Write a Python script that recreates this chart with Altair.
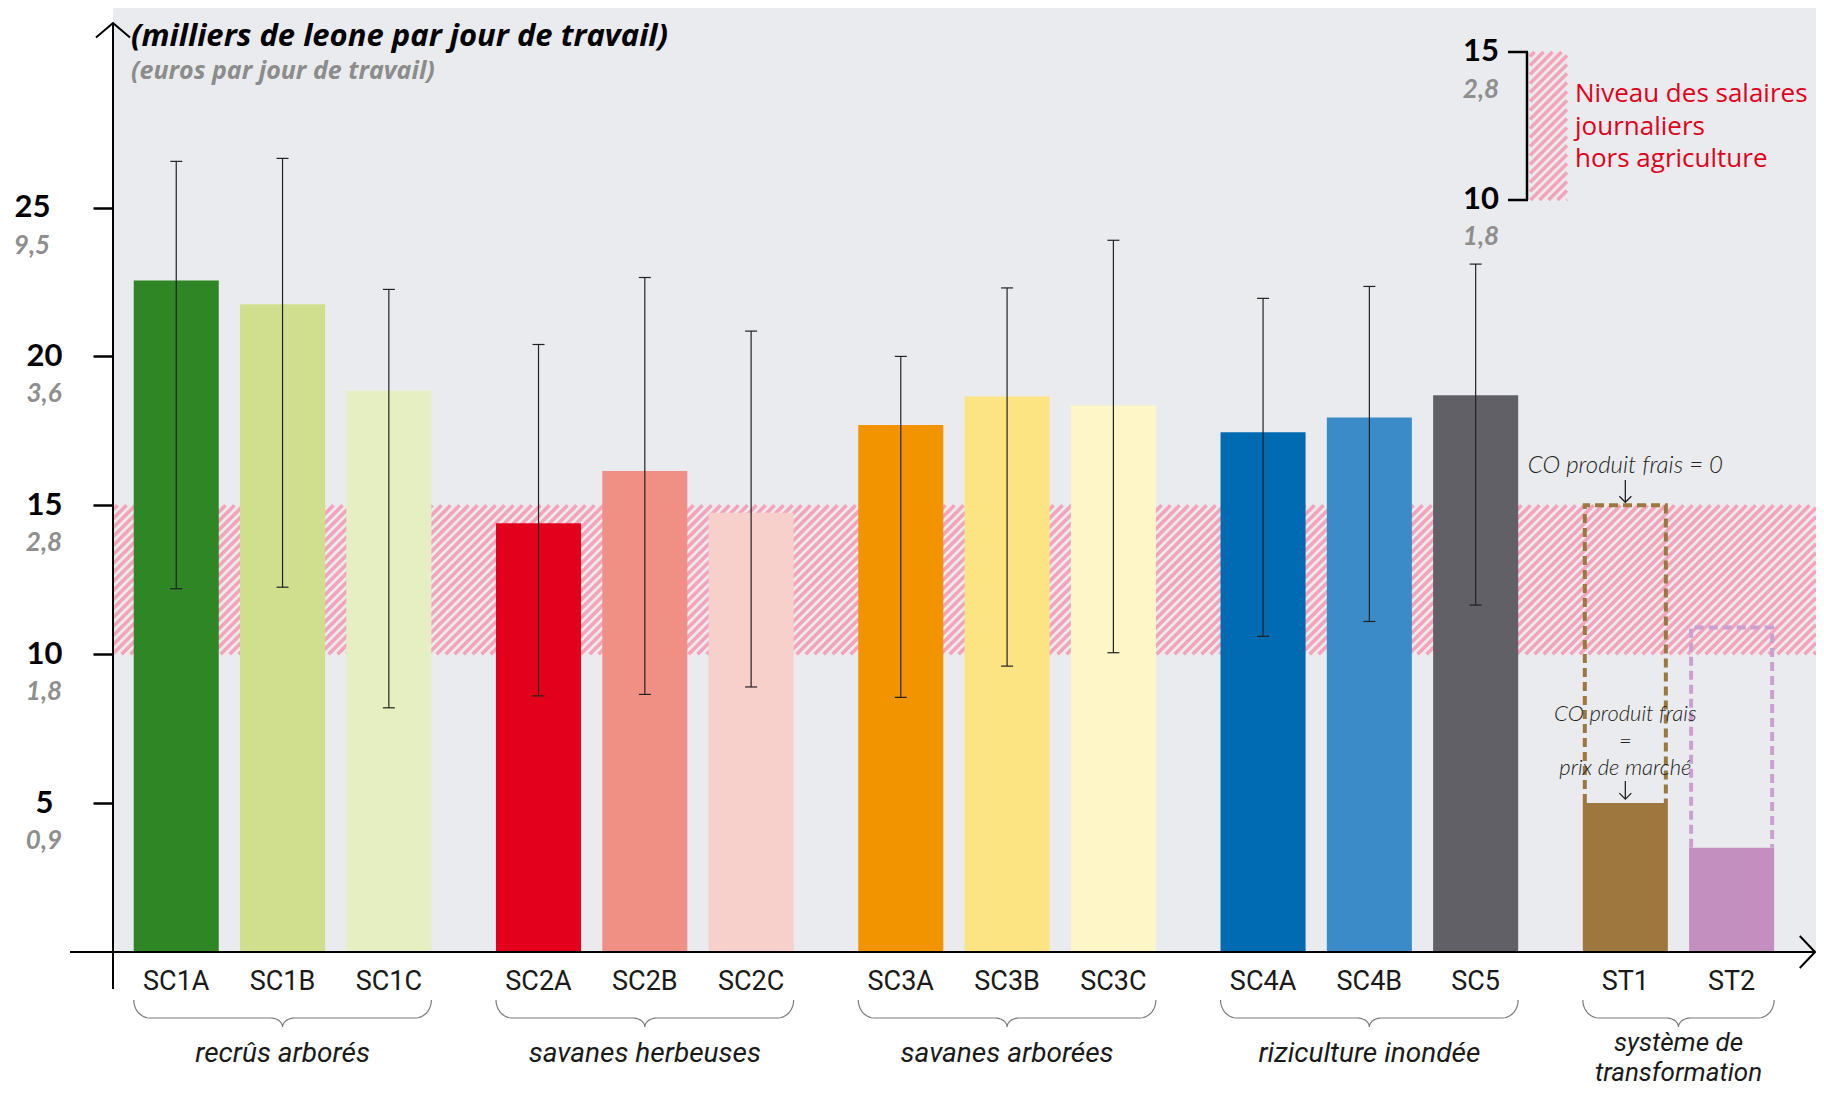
import math
import altair as alt
import pandas as pd

# ---------------- data ----------------
categories = ["SC1A", "SC1B", "SC1C", "SC2A", "SC2B", "SC2C", "SC3A", "SC3B", "SC3C",
              "SC4A", "SC4B", "SC5", "ST1", "ST2"]
group_of = [0, 0, 0, 1, 1, 1, 2, 2, 2, 3, 3, 3, 4, 4]
group_lines = [["recrûs arborés"], ["savanes herbeuses"], ["savanes arborées"],
               ["riziculture inondée"], ["système de", "transformation"]]
values = [22.55, 21.75, 18.85, 14.4, 16.15, 14.75, 17.7, 18.65, 18.35, 17.45, 17.95, 18.7, 5.0, 3.5]
err_low = [12.2, 12.25, 8.2, 8.6, 8.65, 8.9, 8.55, 9.6, 10.05, 10.6, 11.1, 11.65, None, None]
err_high = [26.55, 26.65, 22.25, 20.4, 22.65, 20.85, 20.0, 22.3, 23.9, 21.95, 22.35, 23.1, None, None]
colors = ["#2f8624", "#d0df8d", "#e6efc2", "#e2001d", "#f09084", "#f8d0cb", "#f29300", "#fde483",
          "#fef6c6", "#006ab3", "#3a8bc8", "#606066", "#9e773f", "#c28fbf"]
alt_cats = ["ST1", "ST2"]
alt_values = [15.0, 10.9]
alt_colors = ["#9e773f", "#cc9fd2"]
wage_band = [10, 15]
y_ticks = [5, 10, 15, 20, 25]
euro_labels = ["0,9", "1,8", "2,8", "3,6", "9,5"]
legend_nums = ["15", "10"]
legend_euro = ["2,8", "1,8"]
legend_text = ["Niveau des salaires", "journaliers", "hors agriculture"]
title_main = "(milliers de leone par jour de travail)"
title_sub = "(euros par jour de travail)"
note_zero = "CO produit frais = 0"
note_market = ["CO produit frais", "=", "prix de marché"]

# ---------------- layout ----------------
W, H = 1703, 944
PAD = {"left": 105, "top": 0, "right": 0, "bottom": 136}
YMAX = 31.7
PXY = H / YMAX
STEP = 106.3
X0 = -0.595
XMAX = X0 + W / STEP
GAP = 0.408
HALF = 0.4

xscale = alt.Scale(domain=[X0, XMAX], nice=False, zero=False)
yscale = alt.Scale(domain=[0, YMAX], nice=False, zero=False)

LATO = "Lato"
ROBOTO = "Roboto"
OPEN = "Open Sans"

y_axis = alt.Axis(values=y_ticks, domain=False, grid=False, ticks=True, tickSize=20, tickWidth=2.5,
                  tickColor="#000000", labelFont=LATO, labelFontWeight="bold", labelFontSize=31,
                  labelColor="#000000", labelAlign="center", labelBaseline="middle",
                  labelPadding={"condition": {"test": "datum.value == 25", "value": 61}, "value": 49},
                  labelOverlap=False, labelFlush=False, title=None)


def xu(px):
    return X0 + px / STEP


def yu(py):
    return (H - py) / PXY


def px_x(u):
    return (u - X0) * STEP


def py_y(v):
    return H - v * PXY


def X(f):
    return alt.X(f, type="quantitative", scale=xscale, axis=None)


def Y(f):
    return alt.Y(f, type="quantitative", scale=yscale, axis=y_axis)


pos = [i + GAP * g for i, g in enumerate(group_of)]
dummy = pd.DataFrame({"a": [0]})

layers = []


def hatch_segments(x0, x1, y0, y1, spacing):
    out = []
    c = x0 + y0 + spacing * 0.5
    while c < x1 + y1:
        xa = max(x0, c - y1)
        xb = min(x1, c - y0)
        if xb > xa + 0.3:
            out.append({"x": xu(xa), "y": yu(c - xa), "x2": xu(xb), "y2": yu(c - xb)})
        c += spacing
    return out


# bars
bars_df = pd.DataFrame({"cat": categories, "val": values,
                        "xl": [p - HALF for p in pos], "xr": [p + HALF for p in pos]})
bars = alt.Chart(bars_df).mark_rect().encode(
    x=X("xl"), x2="xr:Q", y=Y("val"), y2=alt.datum(0),
    color=alt.Color("cat:N", scale=alt.Scale(domain=categories, range=colors), legend=None))

# hatch band (below bars)
band_df = pd.DataFrame(hatch_segments(0, W, py_y(wage_band[1]), py_y(wage_band[0]), 9.0))
band = alt.Chart(band_df).mark_rule(color="#f4a3b9", strokeWidth=3.6, strokeCap="butt").encode(
    x=X("x"), x2="x2:Q", y=Y("y"), y2="y2:Q")

layers.append(band)
layers.append(bars)

# error bars
err_rows = []
cap_rows = []
CAP = 6.0 / STEP
for p, lo, hi in zip(pos, err_low, err_high):
    if lo is None:
        continue
    err_rows.append({"x": p, "lo": lo, "hi": hi})
    for v in (lo, hi):
        cap_rows.append({"xa": p - CAP, "xb": p + CAP, "y": v})
layers.append(
    alt.Chart(pd.DataFrame(err_rows)).mark_rule(color="#222222", strokeWidth=1.2).encode(
        x=X("x"), y=Y("lo"), y2="hi:Q")
)
layers.append(
    alt.Chart(pd.DataFrame(cap_rows)).mark_rule(color="#222222", strokeWidth=1.2).encode(
        x=X("xa"), x2="xb:Q", y=Y("y"))
)

# dashed alternative outlines
INSET = 2.0 / STEP
for c, av, col in zip(alt_cats, alt_values, alt_colors):
    i = categories.index(c)
    xl, xr = pos[i] - HALF + INSET, pos[i] + HALF - INSET
    pts = pd.DataFrame({"x": [xl, xl, xr, xr], "y": [values[i], av, av, values[i]], "o": [0, 1, 2, 3]})
    layers.append(
        alt.Chart(pts).mark_line(color=col, strokeWidth=4, strokeDash=[9, 5], strokeCap="butt").encode(
            x=X("x"), y=Y("y"), order="o:Q")
    )

# annotations
ist1 = categories.index("ST1")
ann_x = pd.DataFrame({"x": [pos[ist1]]})
ann_font = dict(font=LATO, fontStyle="italic", fontWeight=300, color="#222222",
                align="center", baseline="middle")
layers.append(alt.Chart(ann_x).mark_text(text=note_zero, fontSize=24, **ann_font).encode(
    x=X("x"), y=alt.value(458)))
for k, line in enumerate(note_market):
    layers.append(alt.Chart(ann_x).mark_text(text=line, fontSize=22, **ann_font).encode(
        x=X("x"), y=alt.value(706 + 27 * k)))
tip1 = py_y(alt_values[0]) - 3
tip2 = py_y(values[ist1]) - 4
for ya, yb in ((472, tip1), (773, tip2)):
    layers.append(alt.Chart(ann_x).mark_rule(color="#222222", strokeWidth=1.3).encode(
        x=X("x"), y=alt.value(ya), y2=alt.value(yb)))
    layers.append(alt.Chart(ann_x).mark_point(shape="M-1,-1L0,0L1,-1", size=144, filled=False,
                                              color="#222222", strokeWidth=1.3, opacity=1).encode(
        x=X("x"), y=alt.value(yb)))

# axes lines and arrows
layers.append(alt.Chart(dummy).mark_rule(color="#000000", strokeWidth=2).encode(
    x=alt.value(0), y=alt.value(16), y2=alt.value(981)))
layers.append(alt.Chart(dummy).mark_rule(color="#000000", strokeWidth=2).encode(
    x=alt.value(-43), x2=alt.value(W - 1), y=alt.value(H)))
layers.append(alt.Chart(dummy).mark_point(shape="M-1,0.85L0,0L1,0.85", size=1156, filled=False,
                                          color="#000000", strokeWidth=2, opacity=1).encode(
    x=alt.value(0), y=alt.value(15)))
layers.append(alt.Chart(dummy).mark_point(shape="M-0.95,-1L0,0L-0.95,1", size=1024, filled=False,
                                          color="#000000", strokeWidth=2, opacity=1).encode(
    x=alt.value(W - 1), y=alt.value(H)))

# euro tick labels
euro_df = pd.DataFrame({"v": y_ticks, "t": euro_labels})
euro_font = dict(font=LATO, fontStyle="italic", fontWeight="bold", fontSize=26, color="#8e8e8e",
                 align="center", baseline="middle", dy=38)
layers.append(alt.Chart(euro_df).transform_filter("datum.v != 25").mark_text(**euro_font).encode(
    x=alt.value(-69), y=Y("v"), text="t:N"))
layers.append(alt.Chart(euro_df).transform_filter("datum.v == 25").mark_text(**euro_font).encode(
    x=alt.value(-81), y=Y("v"), text="t:N"))

# titles
layers.append(alt.Chart(dummy).mark_text(text=title_main, font=OPEN, fontStyle="italic", fontWeight="bold",
                                         fontSize=31, color="#000000", align="left",
                                         baseline="alphabetic").encode(x=alt.value(18), y=alt.value(38)))
layers.append(alt.Chart(dummy).mark_text(text=title_sub, font=OPEN, fontStyle="italic", fontWeight="bold",
                                         fontSize=25, color="#8c8c8c", align="left",
                                         baseline="alphabetic").encode(x=alt.value(18), y=alt.value(71)))

# category labels
cat_df = pd.DataFrame({"x": pos, "t": categories})
layers.append(alt.Chart(cat_df).mark_text(font=ROBOTO, fontSize=27, color="#1a1a1a", align="center",
                                          baseline="middle").encode(x=X("x"), y=alt.value(974), text="t:N"))

# braces
brace_rows = []
for g in range(len(group_lines)):
    idx = [i for i, gg in enumerate(group_of) if gg == g]
    xL = px_x(pos[idx[0]] - HALF)
    xR = px_x(pos[idx[-1]] + HALF)
    xc = (xL + xR) / 2
    left = []
    for d in range(0, 91, 10):
        t = math.radians(d)
        left.append((xL + 16 - 16 * math.cos(t), 992 + 18 * math.sin(t)))
    for d in range(0, 91, 10):
        t = math.radians(d)
        left.append((xc - 12 + 12 * math.sin(t), 1019 - 9 * math.cos(t)))
    right = [(2 * xc - px, py) for (px, py) in reversed(left[:-1])]
    for k, (px, py) in enumerate(left + right):
        brace_rows.append({"g": g, "o": k, "x": xu(px), "y": yu(py)})
layers.append(alt.Chart(pd.DataFrame(brace_rows)).mark_line(color="#7a7a7a", strokeWidth=1.2).encode(
    x=X("x"), y=Y("y"), detail="g:N", order="o:Q"))

# group labels
grp_rows = []
for g, lines in enumerate(group_lines):
    idx = [i for i, gg in enumerate(group_of) if gg == g]
    xc = (pos[idx[0]] + pos[idx[-1]]) / 2
    if len(lines) == 1:
        grp_rows.append({"x": xc, "y": yu(1054), "t": lines[0], "s": 28})
    else:
        grp_rows.append({"x": xc, "y": yu(1043), "t": lines[0], "s": 26})
        grp_rows.append({"x": xc, "y": yu(1073), "t": lines[1], "s": 26})
grp_df = pd.DataFrame(grp_rows)
for s in (28, 26):
    layers.append(alt.Chart(grp_df).transform_filter(f"datum.s == {s}").mark_text(
        font=ROBOTO, fontStyle="italic", fontSize=s, color="#1a1a1a", align="center",
        baseline="alphabetic").encode(x=X("x"), y=Y("y"), text="t:N"))

# legend (top right)
LX0, LX1, LY0, LY1 = 1417, 1454, 44, 192
leg_df = pd.DataFrame(hatch_segments(LX0, LX1, LY0, LY1, 9.0))
layers.append(alt.Chart(leg_df).mark_rule(color="#f4a3b9", strokeWidth=3.6, strokeCap="butt").encode(
    x=X("x"), x2="x2:Q", y=Y("y"), y2="y2:Q"))
layers.append(alt.Chart(dummy).mark_rule(color="#000000", strokeWidth=2.5).encode(
    x=alt.value(1414), y=alt.value(LY0), y2=alt.value(LY1)))
for yy in (LY0, LY1):
    layers.append(alt.Chart(dummy).mark_rule(color="#000000", strokeWidth=2.5).encode(
        x=alt.value(1395), x2=alt.value(1415), y=alt.value(yy)))
for t, yy in zip(legend_nums, (LY0, LY1)):
    layers.append(alt.Chart(dummy).mark_text(text=t, font=LATO, fontWeight="bold", fontSize=31,
                                             color="#000000", align="center", baseline="middle").encode(
        x=alt.value(1368), y=alt.value(yy)))
for t, yy in zip(legend_euro, (LY0 + 38, LY1 + 37)):
    layers.append(alt.Chart(dummy).mark_text(text=t, font=LATO, fontStyle="italic", fontWeight="bold",
                                             fontSize=26, color="#8e8e8e", align="center",
                                             baseline="middle").encode(x=alt.value(1368), y=alt.value(yy)))
for k, t in enumerate(legend_text):
    layers.append(alt.Chart(dummy).mark_text(text=t, font=OPEN, fontSize=26, color="#e2001a", align="left",
                                             baseline="alphabetic").encode(
        x=alt.value(1462), y=alt.value(94 + 32.5 * k)))

chart = alt.layer(*layers).properties(
    width=W, height=H, padding=PAD, autosize=alt.AutoSizeParams(type="none"), background="#ffffff"
).configure_view(fill="#e9ebee", stroke=None)

chart.save("out.html", embed_options={"renderer": "svg", "actions": False})
